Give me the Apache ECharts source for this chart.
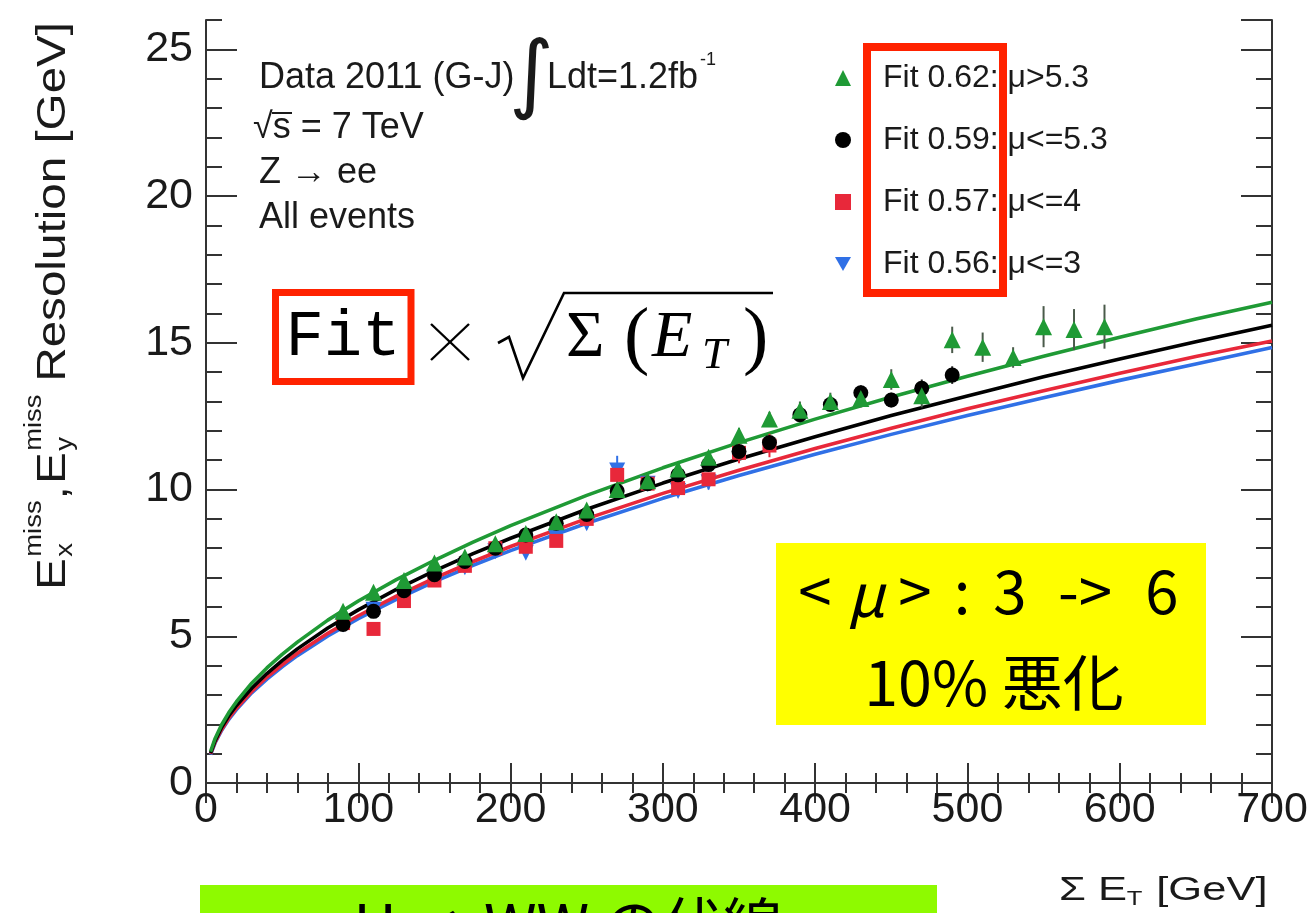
<!DOCTYPE html>
<html><head><meta charset="utf-8">
<script src="https://cdn.jsdelivr.net/npm/echarts@6/dist/echarts.min.js"></script>
<style>html,body{margin:0;padding:0;background:#fff}#c{width:1313px;height:913px}</style>
</head><body><div id="c"></div>
<script>
// ---------- data ----------
const xTickLabels = ['0','100','200','300','400','500','600','700'];
const yTickLabels = ['0','5','10','15','20','25'];

const legendNames = ['Fit 0.62: \u03bc>5.3','Fit 0.59: \u03bc<=5.3','Fit 0.57: \u03bc<=4','Fit 0.56: \u03bc<=3'];

const greenX = [90,110,130,150,170,190,210,230,250,270,290,310,330,350,370,390,410,430,450,470,490,510,530,550,570,590];
const greenY = [5.85,6.5,6.9,7.5,7.7,8.15,8.5,8.9,9.3,10.0,10.3,10.7,11.1,11.85,12.4,12.7,13.0,13.1,13.75,13.2,15.1,14.85,14.5,15.55,15.45,15.55];
const greenE = [0.12,0.12,0.12,0.12,0.12,0.12,0.15,0.15,0.15,0.2,0.2,0.2,0.2,0.25,0.25,0.3,0.3,0.3,0.35,0.4,0.45,0.5,0.35,0.7,0.7,0.75];

const blackX = [90,110,130,150,170,190,210,230,250,270,290,310,330,350,370,390,410,430,450,470,490];
const blackY = [5.4,5.85,6.55,7.1,7.55,8.0,8.45,8.85,9.15,9.95,10.2,10.5,10.85,11.3,11.6,12.55,12.9,13.3,13.05,13.45,13.9];
const blackE = [0.12,0.12,0.12,0.12,0.12,0.12,0.12,0.15,0.15,0.15,0.15,0.15,0.15,0.2,0.2,0.2,0.2,0.25,0.25,0.3,0.3];

const redX = [90,110,130,150,170,190,210,230,250,270,290,310,330,350,370];
const redY = [5.45,5.25,6.2,6.9,7.4,8.0,8.05,8.25,9.0,10.5,10.2,10.05,10.35,11.25,11.5];
const redE = [0.12,0.12,0.12,0.12,0.12,0.12,0.15,0.15,0.15,0.35,0.2,0.2,0.2,0.35,0.4];

const blueX = [90,110,130,150,170,190,210,230,250,270,290,310,330];
const blueY = [5.4,5.9,6.4,7.0,7.35,7.9,7.85,8.35,8.85,10.65,10.2,9.95,10.25];
const blueE = [0.12,0.12,0.12,0.12,0.15,0.15,0.15,0.2,0.2,0.5,0.2,0.2,0.25];

// fitted curves
const fitX     = [3,6,10,15,20,30,40,50,60,80,100,125,150,175,200,250,300,350,400,450,500,550,600,650,700];
const fitGreen = [1.07,1.52,1.96,2.40,2.77,3.40,3.92,4.38,4.80,5.55,6.20,6.93,7.59,8.20,8.77,9.80,10.74,11.60,12.40,13.15,13.86,14.54,15.19,15.81,16.38];
const fitBlack = [1.02,1.44,1.87,2.29,2.64,3.23,3.73,4.17,4.57,5.28,5.90,6.60,7.23,7.81,8.34,9.33,10.22,11.04,11.80,12.52,13.19,13.84,14.45,15.04,15.60];
const fitRed   = [0.99,1.40,1.80,2.21,2.55,3.12,3.61,4.03,4.42,5.10,5.70,6.37,6.98,7.54,8.06,9.01,9.87,10.66,11.40,12.09,12.75,13.37,13.96,14.53,15.06];
const fitBlue  = [0.97,1.37,1.77,2.17,2.50,3.07,3.54,3.96,4.34,5.01,5.60,6.26,6.86,7.41,7.92,8.85,9.70,10.48,11.20,11.88,12.52,13.13,13.72,14.28,14.84];

// ---------- styles ----------
const C_GREEN = '#1f9a35', C_BLACK = '#000000', C_RED = '#e8283a', C_BLUE = '#3070e6';
const SANS = '"Liberation Sans", Arial, sans-serif';
const SERIF = '"Liberation Serif", "DejaVu Serif", serif';
const CJK = '"Noto Sans CJK JP", "Noto Sans", sans-serif';
const AX = '#333';
const DOWN_TRI = 'path://M0,0L20,0L10,17.3Z';

const zip = (xs, ys) => xs.map((x, i) => [x, ys[i]]);

function lineSeries(name, ys, color, z) {
  return {type:'line', name:name, data: zip(fitX, ys), smooth:false,
    showSymbol:false, symbol:'none', lineStyle:{color:color, width:3.6, join:'round'}, z:z, silent:true};
}
function errSeries(xs, ys, es, color) {
  return {type:'custom', silent:true, z:3,
    data: xs.map((x, i) => [x, ys[i] - es[i], ys[i] + es[i]]),
    encode:{x:0, y:[1,2]},
    renderItem:(p, api) => {
      const a = api.coord([api.value(0), api.value(1)]);
      const b = api.coord([api.value(0), api.value(2)]);
      return {type:'line', shape:{x1:a[0], y1:a[1], x2:b[0], y2:b[1]}, style:{stroke:color, lineWidth:2}};
    }};
}
function scatter(name, xs, ys, color, symbol, size) {
  return {type:'scatter', name:name, data: zip(xs, ys), symbol:symbol, symbolSize:size,
    itemStyle:{color:color, opacity:1}, z:5};
}

const chart = echarts.init(document.getElementById('c'), null, {renderer:'canvas'});

const axisBase = {
  axisLine:{show:true, lineStyle:{color:AX, width:2}},
  splitLine:{show:false}
};

function txt(x, y, s, font, opts) {
  opts = opts || {};
  const a = opts.align || 'left', v = opts.valign || 'middle';
  return {type:'text', x:x, y:y, z:opts.z || 50,
    style:{text:s, font:font, fill:opts.fill || '#1a1a1a', textAlign:a, align:a, textVerticalAlign:v, verticalAlign:v}};
}

const ANN = '36px ' + SANS;
const graphics = [
  // top-left annotation
  txt(259, 78, 'Data 2011 (G-J)', ANN),
  txt(509, 80, '\u222b', '86px "DejaVu Sans", sans-serif'),
  txt(547, 78, 'Ldt=1.2fb', ANN),
  txt(700, 60, '-1', '18px ' + SANS),
  txt(253, 128, '\u221as = 7 TeV', ANN),
  {type:'line', z:50, shape:{x1:272, y1:113, x2:292, y2:113}, style:{stroke:'#1a1a1a', lineWidth:2}},
  txt(259, 173, 'Z \u2192 ee', ANN),
  txt(259, 218, 'All events', ANN),

  // red box around legend "Fit" values
  {type:'rect', z:60, shape:{x:867, y:47, width:136, height:246}, style:{fill:'none', stroke:'#ff2200', lineWidth:8}},

  // formula
  {type:'rect', z:60, shape:{x:275.5, y:292.5, width:135.5, height:89}, style:{fill:'#fff', stroke:'#ff2200', lineWidth:7}},
  txt(343, 338, 'Fit', '64px "Liberation Mono", "DejaVu Sans Mono", monospace', {align:'center', fill:'#000', z:61}),
  {type:'line', z:50, shape:{x1:431, y1:324, x2:469, y2:360}, style:{stroke:'#000', lineWidth:2.4}},
  {type:'line', z:50, shape:{x1:431, y1:360, x2:469, y2:324}, style:{stroke:'#000', lineWidth:2.4}},
  {type:'polyline', z:50, shape:{points:[[498,343],[509,337],[523,378],[564,293],[773,293]]}, style:{fill:'none', stroke:'#000', lineWidth:2.6, lineJoin:'miter'}},
  txt(566, 339, '\u03a3', '66px ' + SERIF, {fill:'#000'}),
  txt(624, 340, '(', '76px ' + SERIF, {fill:'#000'}),
  txt(652, 339, 'E', 'italic 66px ' + SERIF, {fill:'#000'}),
  txt(702, 356, 'T', 'italic 45px ' + SERIF, {fill:'#000'}),
  txt(743, 340, ')', '76px ' + SERIF, {fill:'#000'}),

  // yellow note
  {type:'rect', z:40, shape:{x:776, y:543, width:430, height:182}, style:{fill:'#ffff00'}},
  txt(815, 591, '<', '60px ' + CJK, {align:'center', fill:'#000', z:41}),
  txt(866, 594, '\u03bc', 'italic 60px ' + CJK, {align:'center', fill:'#000', z:41}),
  txt(915, 591, '>', '60px ' + CJK, {align:'center', fill:'#000', z:41}),
  txt(962, 591, ':', '60px ' + CJK, {align:'center', fill:'#000', z:41}),
  txt(1010, 591, '3', '60px ' + CJK, {align:'center', fill:'#000', z:41}),
  txt(1085, 591, '->', '60px ' + CJK, {align:'center', fill:'#000', z:41}),
  txt(1162, 591, '6', '60px ' + CJK, {align:'center', fill:'#000', z:41}),
  txt(994, 683, '10% \u60aa\u5316', '61px ' + CJK, {align:'center', fill:'#000', z:41}),

  // green banner at bottom (cut off)
  {type:'rect', z:40, shape:{x:200, y:885, width:737, height:40}, style:{fill:'#8efa00'}},
  txt(568, 895, 'H \u2192 WW \u306e\u4f0f\u7dda', '60px ' + CJK, {align:'center', valign:'top', fill:'#000', z:41}),

  // x axis title
  {type:'group', x:1059, y:891, scaleX:1.28, z:50, children:[
    txt(0, 0, '\u03a3 E', '34px ' + SANS),
    txt(53, 8, 'T', '20px ' + SANS),
    txt(76, 0, '[GeV]', '34px ' + SANS)
  ]},

  // y axis title (rotated)
  {type:'group', x:54, y:590, rotation:Math.PI/2, scaleX:1.19, z:50, children:[
    txt(0, 0, 'E', '40px ' + SANS),
    txt(28, 12, 'x', '23px ' + SANS),
    txt(28, -19, 'miss', '23px ' + SANS),
    txt(76, 2, ',', '40px ' + SANS),
    txt(89, 0, 'E', '40px ' + SANS),
    txt(117, 12, 'y', '23px ' + SANS),
    txt(117, -19, 'miss', '23px ' + SANS),
    txt(175, 0, 'Resolution [GeV]', '40px ' + SANS)
  ]}
];

const option = {
  animation:false,
  backgroundColor:'#ffffff',
  grid:{left:206, right:41, top:20, bottom:130, containLabel:false},
  legend:{
    show:true, orient:'vertical', left:830, top:57, itemGap:30, itemWidth:16, itemHeight:16,
    data:[
      {name:legendNames[0]}, {name:legendNames[1]}, {name:legendNames[2]},
      {name:legendNames[3], icon:DOWN_TRI}
    ],
    selectedMode:false,
    textStyle:{fontFamily:SANS, fontSize:32, lineHeight:32, color:'#1a1a1a', padding:[0,0,0,27]}
  },
  xAxis:[
    Object.assign({type:'value', position:'bottom', min:0, max:700, interval:100,
      axisTick:{show:true, inside:true, length:20, lineStyle:{color:AX, width:2}},
      minorTick:{show:true, splitNumber:5, length:10, lineStyle:{color:AX, width:2}},
      axisLabel:{show:true, margin:6, fontFamily:SANS, fontSize:43, color:'#1a1a1a',
        formatter:(v) => xTickLabels[Math.round(v/100)] || ''}}, axisBase),
    Object.assign({type:'value', position:'top', min:0, max:700, interval:100,
      axisTick:{show:true, inside:true, length:20, lineStyle:{color:AX, width:2}},
      minorTick:{show:true, splitNumber:5, length:10, lineStyle:{color:AX, width:2}},
      axisLabel:{show:false}}, axisBase)
  ],
  yAxis:[
    Object.assign({type:'value', position:'left', min:0, max:26, interval:5,
      axisTick:{show:true, inside:true, length:31, lineStyle:{color:AX, width:2}},
      axisLabel:{show:true, margin:13, showMaxLabel:false, fontFamily:SANS, fontSize:43, color:'#1a1a1a',
        formatter:(v) => (v % 5 === 0 ? (yTickLabels[v/5] || '') : '')}}, axisBase),
    {type:'value', position:'left', min:0, max:26, interval:1, axisLine:{show:false}, splitLine:{show:false},
      axisTick:{show:true, inside:true, length:16, lineStyle:{color:AX, width:2}}, axisLabel:{show:false}},
    Object.assign({type:'value', position:'right', min:0, max:26, interval:5,
      axisTick:{show:true, inside:true, length:31, lineStyle:{color:AX, width:2}},
      axisLabel:{show:false}}, axisBase),
    {type:'value', position:'right', min:0, max:26, interval:1, axisLine:{show:false}, splitLine:{show:false},
      axisTick:{show:true, inside:true, length:16, lineStyle:{color:AX, width:2}}, axisLabel:{show:false}}
  ],
  series:[
    lineSeries('fitBlue', fitBlue, C_BLUE, 1),
    lineSeries('fitRed', fitRed, C_RED, 1),
    lineSeries('fitBlack', fitBlack, C_BLACK, 2),
    lineSeries('fitGreen', fitGreen, C_GREEN, 2),
    errSeries(blueX, blueY, blueE, C_BLUE),
    errSeries(redX, redY, redE, C_RED),
    errSeries(blackX, blackY, blackE, '#222'),
    errSeries(greenX, greenY, greenE, '#4a5a4a'),
    scatter(legendNames[3], blueX, blueY, C_BLUE, DOWN_TRI, 16),
    scatter(legendNames[2], redX, redY, C_RED, 'rect', 14),
    scatter(legendNames[1], blackX, blackY, C_BLACK, 'circle', 15),
    scatter(legendNames[0], greenX, greenY, C_GREEN, 'triangle', 17)
  ],
  graphic: graphics
};
chart.setOption(option);
</script>
</body></html>
